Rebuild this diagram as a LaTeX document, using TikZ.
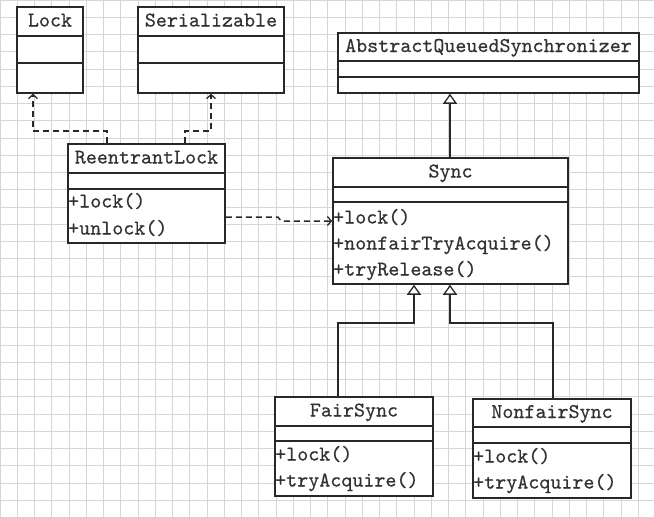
\documentclass[tikz,border=0pt]{standalone}
\usepackage{fontspec}
\usetikzlibrary{arrows.meta,fit,calc}
\definecolor{ink}{RGB}{40,40,40}
\definecolor{txt}{RGB}{50,50,50}
\definecolor{gridc}{RGB}{214,214,214}
\newfontfamily\umlmono{lmmono10-regular.otf}[FakeBold=0.45]
\newcommand\umlfont{\umlmono\fontsize{21}{25}\selectfont}
% name, x1, y1, x2, y2, divider1, divider2, title
\newcommand\umlclass[8]{%
  \node[classbox, fit={(#2,#3)(#4,#5)}] (#1) {};
  \draw[divider] (#2,#6) -- (#4,#6);
  \draw[divider] (#2,#7) -- (#4,#7);
  \node[titletext] (#1-title) at ({(#2+#4)/2},{(#3+#6)/2}) {#8};
}
\begin{document}
\begin{tikzpicture}[x=1pt,y=-1pt,
  gridline/.style={draw=gridc,line width=0.9pt},
  classbox/.style={draw=ink,line width=1.5pt,fill=white,inner sep=0pt},
  divider/.style={draw=ink,line width=1.5pt},
  titletext/.style={font=\umlfont,text=txt,inner sep=0pt,text height=0.72em,text depth=0.22em,yshift=-2.5pt},
  member/.style={titletext,anchor=west,yshift=-1.5pt},
  realize/.style={draw=ink,line width=1.5pt,dash pattern=on 6pt off 4pt,
    -{Straight Barb[length=4pt,width=9pt,line width=1.3pt]}},
  inherit/.style={draw=ink,line width=1.5pt,
    -{Triangle[open,length=10pt,width=14pt,fill=white,line width=1.3pt]}}
]
\useasboundingbox (0,0) rectangle (654,517);
\fill[white] (0,0) rectangle (654,517);
\foreach \i in {0,...,37} \draw[gridline] (\i*17.25,0) -- (\i*17.25,517);
\foreach \j in {0,...,29} \draw[gridline] (0,\j*17.25) -- (654,\j*17.25);

% classes
\umlclass{lock}{17}{7}{83}{93}{36}{63}{Lock}
\umlclass{ser}{138}{7}{284}{93}{36}{63}{Serializable}
\umlclass{aqs}{338}{33}{639}{93}{61}{77}{AbstractQueuedSynchronizer}
\umlclass{rl}{68}{144}{225}{243}{173}{189}{ReentrantLock}
\node[member] (rl-m1) at (68,201) {+lock()};
\node[member] (rl-m2) at (68,228) {+unlock()};
\umlclass{sync}{333}{158}{568}{284}{187}{202}{Sync}
\node[member] (sync-m1) at (333,217) {+lock()};
\node[member] (sync-m2) at (333,243) {+nonfairTryAcquire()};
\node[member] (sync-m3) at (333,269) {+tryRelease()};
\umlclass{fs}{275}{397}{433}{496}{426}{441}{FairSync}
\node[member] (fs-m1) at (275,454) {+lock()};
\node[member] (fs-m2) at (275,480) {+tryAcquire()};
\umlclass{nfs}{473}{399}{631}{498}{427}{443}{NonfairSync}
\node[member] (nfs-m1) at (473,456) {+lock()};
\node[member] (nfs-m2) at (473,482) {+tryAcquire()};

% realization (dashed)
\coordinate (lk1) at (107,131);
\coordinate (lk2) at (33,131);
\draw[realize] (rl.north -| lk1) -- (lk1) -- (lk2) -- (lk2 |- lock.south);
\coordinate (sr1) at (185,131);
\coordinate (sr2) at (211,131);
\draw[realize] (rl.north -| sr1) -- (sr1) -- (sr2) -- (sr2 |- ser.south);
% dependency
\coordinate (dp1) at (278,217);
\coordinate (dp2) at (281,221);
\draw[realize] (rl.east |- dp1) -- (dp1) -- (dp2) -- (sync.west |- dp2);

% generalization
\coordinate (ag) at (450,120);
\draw[inherit] (sync.north -| ag) -- (aqs.south -| ag);
\coordinate (fg1) at (338,323);
\coordinate (fg2) at (414,323);
\draw[inherit] (fs.north -| fg1) -- (fg1) -- (fg2) -- (fg2 |- sync.south);
\coordinate (ng1) at (553,323);
\coordinate (ng2) at (450,323);
\draw[inherit] (nfs.north -| ng1) -- (ng1) -- (ng2) -- (ng2 |- sync.south);
\end{tikzpicture}
\end{document}
